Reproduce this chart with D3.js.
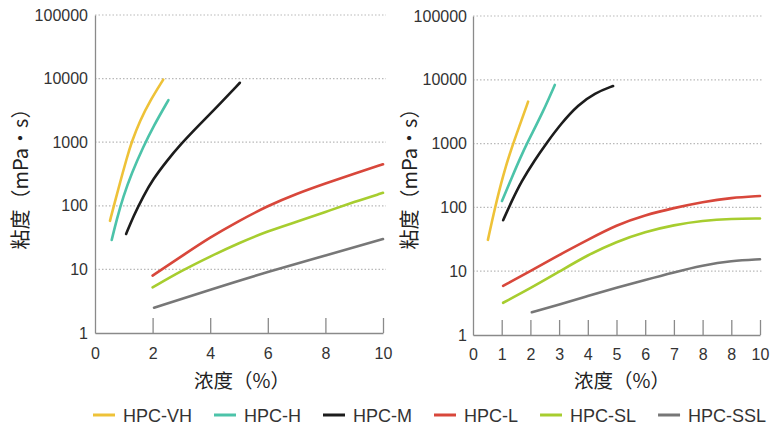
<!DOCTYPE html>
<html>
<head>
<meta charset="utf-8">
<script src="https://cdn.jsdelivr.net/npm/d3@7"></script>
<style>
  body { margin: 0; background: #fff; }
  svg { display: block; }
  .tick text { font-family: "Liberation Sans", Arial, sans-serif; }
</style>
</head>
<body>
<svg width="773" height="430"></svg>
<script>
// Series names and colours
const seriesNames = ["HPC-VH", "HPC-H", "HPC-M", "HPC-L", "HPC-SL", "HPC-SSL"];
const seriesColors = ["#eec238", "#4cc3a9", "#1c1c1c", "#d8473b", "#a7cd2f", "#777777"];

// Tick labels
const yTicks = [1, 10, 100, 1000, 10000, 100000];
const xTicksLeft = [0, 2, 4, 6, 8, 10];
const xTicksRight = [0, 1, 2, 3, 4, 5, 6, 7, 8, 9, 10];
const xTickLabelsRight = ["0", "1", "2", "3", "4", "5", "6", "7", "8", "8", "10"];

// Left panel: [concentration %, viscosity mPa·s]
const leftVH = [[0.52, 58], [0.69, 115], [0.87, 232], [1.1, 556], [1.27, 1000], [1.56, 2185], [1.91, 4460], [2.37, 9640]];
const leftH = [[0.58, 29], [0.75, 60], [0.98, 139], [1.27, 325], [1.68, 850], [2.02, 1750], [2.55, 4600]];
const leftM = [[1.08, 36], [1.33, 68], [1.68, 143], [2.02, 264], [2.49, 506], [2.95, 904], [3.65, 1933], [4.23, 3575], [5.03, 8600]];
const leftL = [[2, 8], [3, 16], [4, 32], [5, 58], [6, 100], [7, 155], [8, 225], [9, 320], [10, 450]];
const leftSL = [[2, 5.2], [3, 9.5], [4, 16], [5, 26], [6, 40], [7, 56], [8, 80], [9, 115], [10, 160]];
const leftSSL = [[2.05, 2.5], [4, 4.8], [6, 9.2], [8, 16.5], [10, 30]];

// Right panel
const rightVH = [[0.52, 31], [0.76, 97], [1.05, 322], [1.34, 845], [1.63, 1950], [1.92, 4540]];
const rightH = [[1.01, 126], [1.34, 286], [1.74, 745], [2.03, 1365], [2.44, 3160], [2.85, 8300]];
const rightM = [[1.05, 63], [1.34, 123], [1.68, 253], [2.15, 552], [2.55, 1000], [3.08, 2090], [3.66, 4030], [4.24, 6210], [4.88, 8000]];
const rightL = [[1.05, 5.9], [2, 10], [3, 18], [4, 31], [5, 53], [6, 76], [7, 98], [8, 122], [9, 142], [10, 151]];
const rightSL = [[1.05, 3.2], [2, 5.4], [3, 9.8], [4, 18], [5, 29], [6, 41.5], [7, 53], [8, 62], [9, 66.5], [10, 67]];
const rightSSL = [[2.05, 2.27], [3, 3.0], [4, 4.1], [5, 5.5], [6, 7.3], [7, 9.6], [8, 12.3], [9, 14.6], [10, 15.4]];

const svg = d3.select("svg");
const latin = "'Liberation Sans', Arial, sans-serif";
const cjk = "'Noto Sans CJK SC', 'Noto Sans', sans-serif";

function drawPanel(p) {
  const x = d3.scaleLinear().domain([0, 10]).range(p.xRange);
  const y = d3.scaleLog().domain([1, 100000]).range(p.yRange);
  const g = svg.append("g");

  // dotted grid
  g.selectAll(".grid")
    .data(yTicks.slice(1))
    .enter()
    .append("line")
    .attr("x1", p.xRange[0])
    .attr("x2", p.gridEnd)
    .attr("y1", d => y(d))
    .attr("y2", d => y(d))
    .attr("stroke", "#b9b9b9")
    .attr("stroke-width", 1.2)
    .attr("stroke-dasharray", "1.5,2");

  // y axis
  const yAxis = g.append("g")
    .attr("transform", `translate(${p.xRange[0]},0)`)
    .call(d3.axisLeft(y).tickValues(yTicks).tickFormat(d3.format("d")).tickSize(0).tickSizeOuter(0).tickPadding(p.yPad));
  yAxis.select(".domain").attr("stroke", "#8a8a8a").attr("stroke-width", 1.3);
  yAxis.selectAll("text").attr("font-size", 16).attr("fill", "#333");

  // x axis with ticks pointing up
  const xAxis = g.append("g")
    .attr("transform", `translate(0,${p.yRange[0]})`)
    .call(d3.axisBottom(x).tickValues(p.xTicks)
      .tickFormat((d, i) => p.xLabels[i])
      .tickSize(-15).tickSizeOuter(0).tickPadding(p.xPad));
  xAxis.select(".domain").attr("stroke", "#8a8a8a").attr("stroke-width", 1.3);
  xAxis.selectAll(".tick line").attr("stroke", "#8a8a8a").attr("stroke-width", 1.3)
    .attr("opacity", d => d === 0 ? 0 : 1);
  xAxis.selectAll("text").attr("font-size", 16).attr("fill", "#333");

  // curves
  const line = d3.line()
    .x(d => x(d[0]))
    .y(d => y(d[1]))
    .curve(d3.curveBasis);

  g.selectAll(".curve")
    .data(p.series)
    .enter()
    .append("path")
    .attr("d", d => line(d))
    .attr("fill", "none")
    .attr("stroke", (d, i) => seriesColors[i])
    .attr("stroke-width", 2.6)
    .attr("stroke-linecap", "round");

  // axis titles
  g.append("text")
    .attr("transform", `translate(${p.yLabelX},${p.yLabelY}) rotate(-90)`)
    .attr("text-anchor", "middle")
    .attr("font-family", cjk)
    .attr("font-size", 20)
    .attr("fill", "#222")
    .text("粘度（mPa・s）");

  g.append("text")
    .attr("x", p.xLabelX)
    .attr("y", 388)
    .attr("text-anchor", "middle")
    .attr("font-family", cjk)
    .attr("font-size", 19.5)
    .attr("fill", "#222")
    .text("浓度（%）");
}

drawPanel({
  xRange: [95, 383], yRange: [333, 15], gridEnd: 386,
  xTicks: xTicksLeft, xLabels: xTicksLeft.map(String),
  yPad: 7, xPad: 15,
  yLabelX: 28, yLabelY: 174, xLabelX: 242,
  series: [leftVH, leftH, leftM, leftL, leftSL, leftSSL]
});

drawPanel({
  xRange: [473, 760], yRange: [335, 16], gridEnd: 762,
  xTicks: xTicksRight, xLabels: xTickLabelsRight,
  yPad: 6, xPad: 14,
  yLabelX: 417, yLabelY: 174, xLabelX: 622,
  series: [rightVH, rightH, rightM, rightL, rightSL, rightSSL]
});

// legend
const legend = svg.append("g").attr("transform", "translate(93,0)");
let cx = 0;
seriesNames.forEach(function (name, i) {
  legend.append("line")
    .attr("x1", cx).attr("x2", cx + 22)
    .attr("y1", 415).attr("y2", 415)
    .attr("stroke", seriesColors[i])
    .attr("stroke-width", 3);
  const t = legend.append("text")
    .attr("x", cx + 30)
    .attr("y", 422)
    .attr("font-family", latin)
    .attr("font-size", 18)
    .attr("fill", "#333")
    .text(name);
  cx += 30 + t.node().getComputedTextLength() + 22;
});
</script>
</body>
</html>
